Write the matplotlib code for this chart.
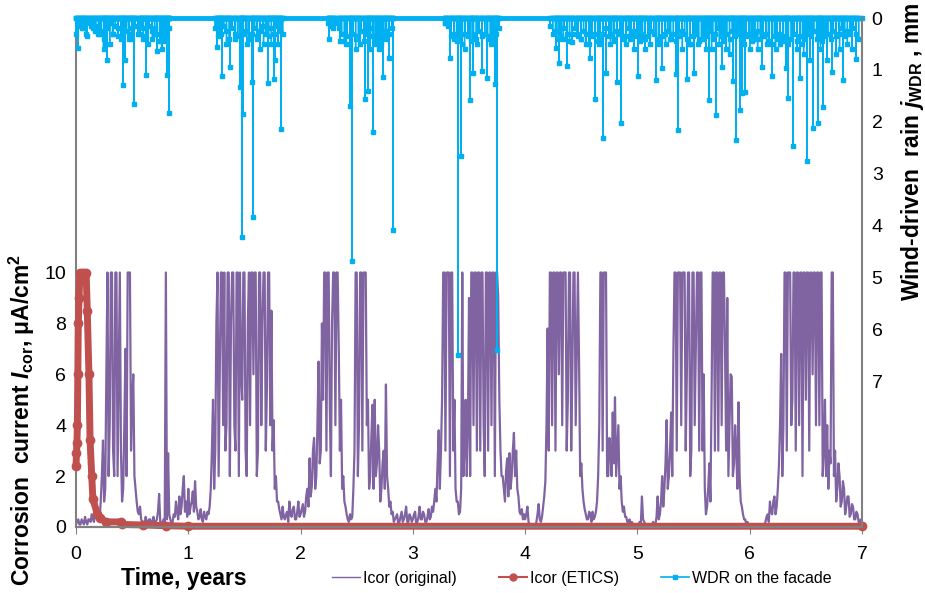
import numpy as np
import matplotlib
matplotlib.use("Agg")
import matplotlib.pyplot as plt
from matplotlib.lines import Line2D

plt.rcParams['font.family'] = ['Liberation Sans', 'DejaVu Sans']
plt.rcParams['mathtext.fontset'] = 'custom'
plt.rcParams['mathtext.rm'] = 'Liberation Sans:bold'
plt.rcParams['mathtext.it'] = 'Liberation Sans:bold:italic'
plt.rcParams['mathtext.bf'] = 'Liberation Sans:bold'

# Icor (original), sampled every 0.01 years, uA/cm2
icor_step = 0.01
icor_orig = [
    0.1, 0.2, 0.3, 0.1, 0.1, 0.3, 0.2, 0.1, 0.4, 0.2, 0.1, 0.3, 0.3, 0.2, 0.5, 0.3, 0.2, 0.5, 0.8, 0.3,
    0.5, 0.3, 1.0, 2.0, 3.4, 1.0, 1.5, 6, 10, 2, 4, 10, 10, 3, 2, 10, 10, 2, 6, 10,
    3, 1, 1.5, 4, 7, 2, 10, 10, 10, 3, 5, 6, 2, 1.5, 1, 0.6, 0.5, 0.8, 0.3, 0.2,
    0.2, 0.1, 0.4, 0.2, 0.1, 0.3, 0.3, 0.1, 0.2, 0.4, 0.1, 0.2, 0.3, 0.6, 1.3, 0.2, 0.1, 0.2, 0.3, 0.2,
    10, 0.3, 2.9, 0.5, 0.3, 0.1, 0.2, 0.5, 0.4, 1.0, 0.6, 0.3, 1.2, 0.5, 0.8, 1.5, 2.0, 0.6, 1.0, 0.4,
    1.5, 0.5, 0.8, 1.0, 1.4, 0.6, 1.8, 0.8, 0.6, 0.3, 0.4, 0.7, 0.3, 0.2, 0.6, 0.4, 0.3, 0.6, 0.5, 0.8,
    1.5, 3, 5, 1.5, 3, 8, 10, 2, 6, 10, 10, 4, 10, 3, 4, 10, 10, 2, 8, 10,
    10, 4, 3, 10, 10, 2, 10, 6, 5, 10, 10, 3, 2, 8, 10, 4, 10, 10, 6, 10,
    10, 2, 3, 10, 10, 4, 8, 10, 10, 3, 5.4, 10, 10, 4, 8.5, 3, 4.2, 1.5, 2, 1,
    1, 0.7, 0.5, 0.3, 0.8, 0.4, 0.3, 0.5, 0.6, 0.2, 1.0, 0.5, 0.4, 0.7, 0.8, 0.3, 0.3, 0.6, 1.0, 0.4,
    0.5, 0.7, 0.9, 0.4, 0.6, 1.2, 1.5, 0.8, 2.7, 1.2, 1.6, 3, 3.5, 1.5, 2, 4, 6.5, 2.5, 3, 8,
    5, 10, 10, 3, 10, 10, 4.7, 2, 8, 10, 10, 4, 10, 10, 7, 3, 5, 1.5, 2, 1,
    0.8, 0.5, 0.3, 0.2, 0.5, 0.3, 0.4, 1.5, 3, 10, 10, 2, 4, 10, 10, 3, 10, 10, 10, 4,
    5, 1.5, 2, 3.5, 4.8, 1.5, 5, 2, 2.5, 4, 3, 1, 1.5, 2.5, 3, 1.5, 5.6, 2, 1.5, 0.8,
    1.0, 0.5, 0.6, 0.2, 0.3, 0.4, 0.5, 0.1, 0.2, 0.4, 0.6, 0.2, 0.3, 0.5, 0.8, 0.2, 0.2, 0.5, 0.4, 0.2,
    0.3, 0.5, 0.6, 0.1, 0.2, 0.4, 0.8, 0.3, 0.3, 0.6, 0.5, 0.2, 0.2, 0.4, 0.7, 0.3, 0.4, 0.8, 0.6, 1.0,
    1.5, 1, 2.5, 3.8, 1.5, 3, 5, 10, 10, 3, 10, 10, 10, 2, 10, 10, 3, 5, 1.5, 1,
    1, 0.5, 0.6, 1.5, 10, 2, 3, 5, 2, 4, 9, 2, 10, 10, 4, 10, 10, 3, 10, 10,
    3, 10, 10, 4, 2, 10, 10, 3, 10, 10, 4, 10, 10, 2, 10, 10, 9, 5, 3, 2,
    2, 1.5, 1, 2.2, 2.7, 1.2, 2.9, 1.5, 2, 3, 3.7, 2, 3, 1.5, 1.2, 0.6, 0.5, 0.7, 0.3, 0.5,
    0.3, 0.5, 0.8, 0.2, 0.1, 0, 0, 0.1, 0.1, 0, 0.2, 0.5, 0.9, 0.3, 0.2, 0.4, 0.8, 1.2, 1.8, 4,
    7.8, 3, 10, 10, 4, 10, 10, 3, 10, 10, 6, 10, 10, 4, 10, 10, 10, 3, 5, 10,
    10, 3, 6, 10, 10, 4, 7, 10, 6.5, 2, 2.5, 1.5, 1, 0.7, 0.5, 0.3, 0.3, 0.6, 0.5, 0.2,
    0.6, 0.3, 0.4, 0.6, 1, 2, 4, 10, 10, 3, 10, 10, 10, 2, 2, 3.5, 3, 2, 4.5, 2.5,
    5.1, 2, 3, 4, 1.5, 2, 1, 0.6, 0.8, 0.4, 0.4, 0.2, 0.2, 0.3, 0.1, 0.2, 0.1, 0, 0.1, 0,
    0, 0.1, 0.2, 0.1, 1.2, 0.3, 0.2, 0.1, 0, 0, 0.1, 0, 0, 0.1, 0.2, 0, 0.1, 0.4, 1.2, 0.3,
    0.5, 1, 2, 0.8, 1.5, 2.5, 4.2, 1.5, 2, 3, 4.5, 2, 6.8, 10, 10, 3, 10, 10, 10, 4,
    10, 10, 10, 3, 6, 10, 10, 2, 3, 10, 10, 4, 7, 10, 10, 3, 10, 10, 3, 6,
    1.5, 0.5, 0.8, 1.5, 2.5, 1, 5, 10, 10, 3, 10, 10, 3, 10, 10, 4, 10, 10, 7, 3,
    9, 2, 4, 6, 5.9, 2, 2.5, 4, 3, 1.5, 4.9, 2, 1, 0.8, 0.5, 0.3, 0.3, 0.1, 0.2, 0.1,
    0.1, 0, 0, 0, 0.1, 0, 0, 0, 0, 0.1, 0.1, 0, 0, 0.1, 0.2, 0.4, 0.5, 0.2, 1.0, 0.6,
    0.5, 1, 1.2, 0.5, 0.8, 1.5, 2.4, 4, 6.8, 2, 4, 10, 10, 3, 10, 10, 10, 4, 5, 10,
    10, 3, 10, 10, 4, 10, 10, 2, 10, 10, 5, 10, 10, 3, 10, 10, 6, 10, 10, 4,
    10, 10, 4, 10, 10, 2, 3, 5, 2, 4, 1.5, 3, 2.5, 10, 10, 2, 3, 1, 1.5, 2.5,
    2, 0.8, 1, 1.8, 1.5, 0.5, 0.8, 1.2, 1.2, 0.4, 0.5, 0.9, 0.8, 0.3, 0.3, 0.6, 0.5, 0.2, 0.2, 0.3,
    0.1,
]

# Icor (ETICS)
etics_t = [0.0, 0.004, 0.008, 0.012, 0.016, 0.02, 0.027, 0.035, 0.05, 0.07,
           0.09, 0.1, 0.115, 0.125, 0.14, 0.15, 0.19, 0.21, 0.27, 0.4,
           0.41, 0.6, 0.8, 1.0, 7.0]
etics_v = [2.4, 2.9, 3.3, 4.0, 6.0, 8.0, 9.0, 10, 10, 10,
           10, 8.5, 6.0, 3.4, 2.0, 1.1, 0.5, 0.35, 0.2, 0.2,
           0.1, 0.08, 0.05, 0.03, 0.03]

# WDR on the facade: larger rain events (time in years, mm)
wdr_t = [0.018, 0.05, 0.09, 0.13, 0.17, 0.21, 0.245, 0.26, 0.276, 0.30,
         0.33, 0.37, 0.40, 0.419, 0.436, 0.47, 0.50, 0.516, 0.57, 0.60,
         0.623, 0.641, 0.68, 0.70, 0.721, 0.746, 0.766, 0.79, 0.81, 0.828,
         1.256, 1.28, 1.30, 1.34, 1.371, 1.42, 1.46, 1.478, 1.487, 1.52,
         1.567, 1.576, 1.61, 1.638, 1.67, 1.71, 1.74, 1.763, 1.772, 1.80,
         1.825, 2.253, 2.29, 2.351, 2.40, 2.44, 2.458, 2.49, 2.53, 2.573,
         2.60, 2.62, 2.645, 2.67, 2.70, 2.734, 2.76, 2.787, 2.823, 3.286,
         3.33, 3.37, 3.402, 3.428, 3.46, 3.508, 3.535, 3.57, 3.615, 3.66,
         3.70, 3.731, 3.749, 4.274, 4.301, 4.34, 4.372, 4.417, 4.46, 4.50,
         4.54, 4.577, 4.622, 4.66, 4.693, 4.72, 4.76, 4.79, 4.817, 4.853,
         4.898, 4.93, 4.97, 5.005, 5.03, 5.067, 5.11, 5.165, 5.19, 5.218,
         5.25, 5.29, 5.343, 5.361, 5.40, 5.441, 5.47, 5.503, 5.54, 5.58,
         5.61, 5.637, 5.66, 5.699, 5.73, 5.752, 5.79, 5.82, 5.85, 5.877,
         5.913, 5.93, 5.957, 6.0, 6.04, 6.07, 6.109, 6.15, 6.198, 6.23,
         6.27, 6.30, 6.322, 6.34, 6.384, 6.42, 6.447, 6.48, 6.509, 6.535,
         6.563, 6.607, 6.63, 6.652, 6.69, 6.732, 6.77, 6.80, 6.83, 6.87,
         6.91, 6.946, 6.97]
wdr_v = [0.58, 0.2, 0.3, 0.15, 0.25, 0.3, 0.6, 0.5, 0.81, 0.5,
         0.3, 0.2, 0.4, 1.29, 0.81, 0.3, 0.4, 1.66, 0.3, 0.4,
         1.1, 0.5, 0.4, 0.3, 0.64, 0.45, 0.6, 0.45, 1.1, 1.83,
         0.55, 0.3, 1.12, 0.5, 0.95, 0.4, 1.33, 4.22, 1.85, 0.5,
         1.23, 3.83, 0.4, 0.6, 0.5, 1.25, 0.5, 1.18, 0.8, 0.5,
         2.14, 0.4, 0.2, 0.44, 0.5, 1.70, 4.68, 0.6, 0.5, 1.56,
         1.41, 0.6, 2.2, 0.5, 0.6, 1.14, 0.4, 0.77, 4.08, 0.1,
         0.77, 0.4, 6.49, 2.66, 0.6, 1.58, 1.06, 0.5, 1.02, 1.16,
         0.5, 1.27, 6.4, 0.58, 0.87, 0.4, 0.92, 0.46, 0.3, 0.4,
         0.5, 0.77, 1.56, 0.5, 2.31, 1.06, 0.5, 0.4, 1.23, 2.02,
         0.5, 0.4, 0.6, 1.12, 0.4, 0.6, 0.5, 1.19, 0.4, 0.96,
         0.5, 0.4, 1.08, 2.16, 0.6, 1.18, 0.5, 1.06, 0.5, 0.4,
         0.6, 1.58, 0.6, 1.87, 0.5, 0.95, 0.6, 0.7, 1.21, 2.35,
         1.77, 1.45, 1.43, 0.6, 0.4, 0.6, 0.95, 0.5, 1.12, 0.6,
         0.5, 0.4, 0.96, 1.54, 2.47, 0.6, 1.16, 0.7, 2.76, 0.8,
         2.12, 2.02, 0.6, 1.71, 0.8, 1.04, 0.7, 0.6, 1.19, 0.5,
         0.6, 0.79, 0.4]

# WDR drizzle within rainy spells: spell start (years), 0.025-year steps, mm
drizzle_step = 0.025
drizzle_start = [0.0, 1.24, 2.24, 3.29, 4.22]
drizzle_v = [
    [0.3, 0.15, 0.1, 0.2, 0.35, 0.1, 0.2, 0.15, 0.3, 0.25, 0.4, 0.2, 0.1, 0.3,
     0.15, 0.35, 0.2, 0.1, 0.25, 0.4, 0.2, 0.15, 0.3, 0.1, 0.2, 0.35, 0.15,
     0.25, 0.2, 0.3, 0.45, 0.35, 0.3, 0.2],
    [0.2, 0.35, 0.3, 0.15, 0.25, 0.4, 0.2, 0.3, 0.35, 0.15, 0.3, 0.25, 0.4,
     0.3, 0.2, 0.35, 0.25, 0.15, 0.3, 0.35, 0.2, 0.3, 0.15, 0.25, 0.3],
    [0.1, 0.15, 0.05, 0.1, 0.2, 0.3, 0.45, 0.35, 0.5, 0.3, 0.4, 0.35, 0.25,
     0.45, 0.3, 0.2, 0.35, 0.4, 0.3, 0.5, 0.35, 0.25, 0.3, 0.2],
    [0.1, 0.15, 0.35, 0.3, 0.45, 0.4, 0.5, 0.3, 0.35, 0.45, 0.3, 0.4, 0.25,
     0.35, 0.3, 0.4, 0.35, 0.45, 0.3, 0.2],
    [0.15, 0.3, 0.25, 0.4, 0.35, 0.2, 0.3, 0.45, 0.3, 0.2, 0.35, 0.4, 0.25,
     0.3, 0.5, 0.35, 0.3, 0.45, 0.4, 0.3, 0.2, 0.35, 0.3, 0.45, 0.25, 0.3,
     0.4, 0.35, 0.2, 0.3, 0.25, 0.35, 0.45, 0.3, 0.4, 0.35, 0.25, 0.3, 0.4,
     0.5, 0.35, 0.3, 0.25, 0.4, 0.3, 0.45, 0.35, 0.25, 0.3, 0.4, 0.5, 0.35,
     0.3, 0.45, 0.4, 0.3, 0.35, 0.25, 0.4, 0.3, 0.2, 0.35, 0.45, 0.3, 0.4,
     0.25, 0.35, 0.3, 0.4, 0.5, 0.35, 0.3, 0.45, 0.3, 0.25, 0.4, 0.35, 0.3,
     0.45, 0.5, 0.35, 0.4, 0.3, 0.45, 0.35, 0.5, 0.4, 0.3, 0.45, 0.35, 0.5,
     0.4, 0.3, 0.35, 0.25, 0.4, 0.3, 0.45, 0.35, 0.3, 0.4, 0.25, 0.35, 0.3,
     0.2, 0.35, 0.25, 0.3, 0.2, 0.3],
]

PURPLE = '#8064A2'
RED = '#C0504D'
CYAN = '#00B0F0'
GREY = '#808080'

fig = plt.figure(figsize=(9.25, 5.93), dpi=100)
ax = fig.add_axes([0.0822, 0.1113, 0.8497, 0.8583])
ax2 = ax.twinx()

t_orig = np.arange(len(icor_orig)) * icor_step
ax.plot(t_orig, icor_orig, color=PURPLE, lw=1.6)
ax.plot(etics_t, etics_v, color=RED, lw=5, marker='o', ms=6, clip_on=False, zorder=4)

# WDR series: zero between events, hourly resolution
events = list(zip(wdr_t, wdr_v))
for t0, vals in zip(drizzle_start, drizzle_v):
    events += [(t0 + k * drizzle_step, v) for k, v in enumerate(vals)]
events.sort()
hr = 1.0 / 8760
wx, wy = [0.0], [0.0]
for t, v in events:
    wx += [t - hr, t, t + hr]
    wy += [0, v, 0]
wx.append(7.0)
wy.append(0.0)
ax2.plot(wx, wy, color=CYAN, lw=1.0, marker='s', ms=3, clip_on=False)
ax2.axhline(0, color=CYAN, lw=3.5, clip_on=False)

ax.set_xlim(0, 7)
ax.set_ylim(0, 20)
ax.set_yticks(range(0, 11, 2))
ax.set_xticks(range(0, 8))
ax2.set_ylim(9.8, 0)
ax2.set_yticks(range(0, 8))

for a in (ax, ax2):
    a.spines['top'].set_visible(False)
    for s in ('left', 'right', 'bottom'):
        a.spines[s].set_color(GREY)
        a.spines[s].set_linewidth(1.5)
    a.tick_params(labelsize=14, colors='#000000', length=0, pad=7)
ax.tick_params(axis='x', length=5, color=GREY, pad=9)
ax2.spines['left'].set_visible(False)
ax.spines['right'].set_visible(False)

fig.text(0.199, 0.025, 'Time, years', fontsize=16.5, fontweight='bold',
         ha='center', va='center')
fig.text(0.024, 0.292, r'Corrosion  current $\mathit{I}_{\mathrm{cor}}$, μA/cm$^{2}$',
         fontsize=16.5, fontweight='bold', rotation=90, ha='center', va='center')
fig.text(0.986, 0.744, r'Wind-driven  rain $\mathit{j}_{\mathrm{WDR}}$ , mm',
         fontsize=16.5, fontweight='bold', rotation=90, ha='center', va='center')

handles = [
    Line2D([], [], color=PURPLE, lw=1.0),
    Line2D([], [], color=RED, lw=1.5, marker='o', ms=5),
    Line2D([], [], color=CYAN, lw=1.2, marker='s', ms=2.5),
]
labels = ['Icor (original)', 'Icor (ETICS)', 'WDR on the facade']
fig.legend(handles, labels, loc='center', bbox_to_anchor=(0.629, 0.025), ncol=3,
           frameon=False, fontsize=11.5, handlelength=1.75, columnspacing=2.6,
           handletextpad=0.2)

fig.savefig('out.png', dpi=100)
